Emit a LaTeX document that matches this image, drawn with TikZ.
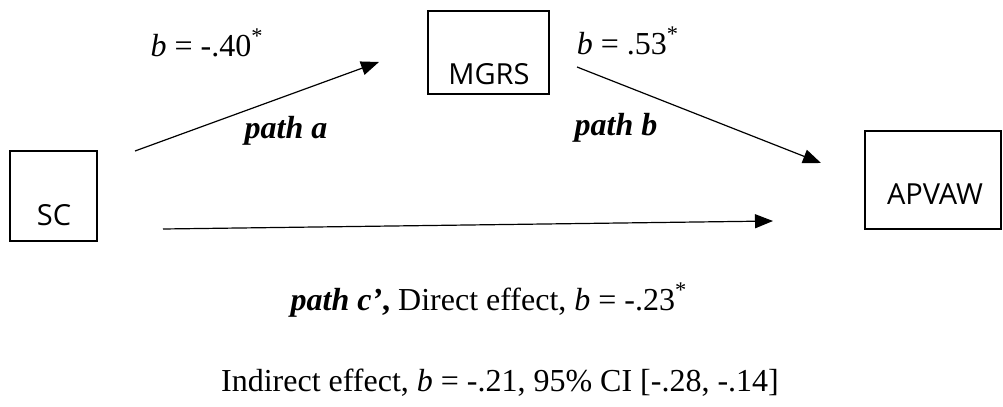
\documentclass[tikz,border=0pt]{standalone}
\usepackage{fontspec}
\setmainfont{Liberation Serif}
\newfontfamily\boxfont{Open Sans}
\usetikzlibrary{arrows.meta}
\begin{document}
\begin{tikzpicture}[x=0.5pt, y=-0.5pt,
		every node/.style={font=\fontsize{16}{19}\selectfont},
		caja/.style={draw=black, line width=0.7pt, inner sep=0pt},
		nombre/.style={font=\boxfont\fontsize{14.5}{17}\selectfont, inner sep=0pt},
		flecha/.style={draw=black, line width=0.6pt, -{Triangle[length=9pt, width=7pt]}},
		etiqueta/.style={inner sep=0pt}]
	\useasboundingbox (0,0) rectangle (1003,407);
	% cajas
	\node[caja, minimum width=43.5pt, minimum height=45pt] (SC) at (53.5,196) {};
	\node[caja, minimum width=60.5pt, minimum height=41.5pt] (MGRS) at (488.5,52.5) {};
	\node[caja, minimum width=68pt, minimum height=49pt] (APVAW) at (933,180) {};
	\node[nombre] (tSC) at (54,215) {SC};
	\node[nombre] (tMGRS) at (489,74) {MGRS};
	\node[nombre] (tAPVAW) at (935,194) {APVAW};
	% extremos de las flechas
	\coordinate (a0) at (135,151);
	\coordinate (a1) at (379,62);
	\coordinate (b0) at (577,67);
	\coordinate (b1) at (821,163);
	\coordinate (c0) at (163,229);
	\coordinate (c1) at (773,221);
	\draw[flecha] (a0) -- (a1);
	\draw[flecha] (b0) -- (b1);
	\draw[flecha] (c0) -- (c1);
	% etiquetas
	\node[etiqueta] (ba) at (207,43) {\textit{b} = -.40\textsuperscript{*}};
	\node[etiqueta] (pa) at (286,131) {\textbf{\textit{path a}}};
	\node[etiqueta] (bb) at (628,41) {\textit{b} = .53\textsuperscript{*}};
	\node[etiqueta] (pb) at (616,128) {\textbf{\textit{path b}}};
	\node[etiqueta] (pc) at (489,300) {\textbf{\textit{path c’},} Direct effect, \textit{b} = -.23\textsuperscript{*}};
	\node[etiqueta] (ind) at (500,383) {Indirect effect, \textit{b} = -.21, 95\% CI [-.28, -.14]};
\end{tikzpicture}
\end{document}
